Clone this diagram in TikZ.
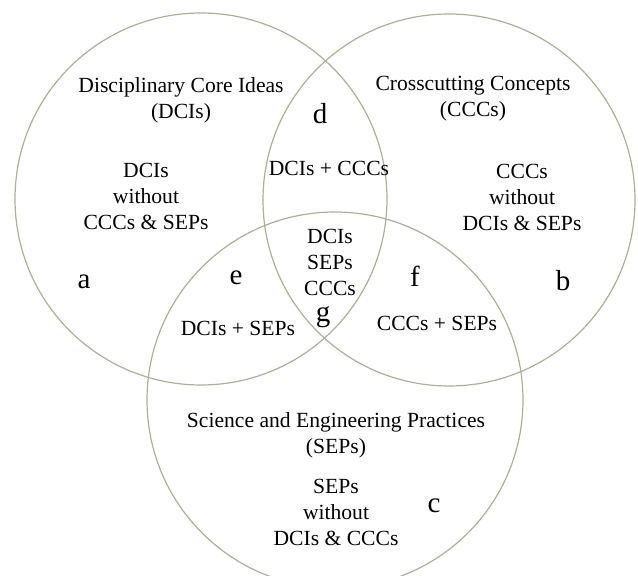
\documentclass[tikz,border=0pt]{standalone}
\usepackage{fontspec}
\setmainfont{Liberation Serif}
\usepackage{tikz}
\usetikzlibrary{calc}
\definecolor{venngray}{RGB}{172,176,150}

\begin{document}
\begin{tikzpicture}[x=0.5pt,y=-0.5pt,
        set/.style={draw=venngray, line width=0.6pt},
        txt/.style={align=center, inner sep=0pt, font=\fontsize{10.8}{13}\selectfont},
        tag/.style={inner sep=0pt, font=\fontsize{14.5}{16}\selectfont}]
        % Page frame
        \useasboundingbox (0,0) rectangle (638,576);
        % Centres of the three sets
        \coordinate (DCI) at (201,199);
        \coordinate (CCC) at (449,200);
        \coordinate (SEP) at (335,400);
        % Draw the circles
        \draw[set] (DCI) circle[radius=186];
        \draw[set] (CCC) circle[radius=186];
        \draw[set] (SEP) circle[radius=188];
        % Names of the sets
        \node[txt] (dciname) at (181,100) {Disciplinary Core Ideas\\(DCIs)};
        \node[txt] (cccname) at (473,99) {Crosscutting Concepts\\(CCCs)};
        \node[txt] (sepname) at (336,435) {Science and Engineering Practices\\(SEPs)};
        % Single regions
        \node[txt] (dcionly) at (146,196) {DCIs\\without\\CCCs \& SEPs};
        \node[txt] (ccconly) at (522,197) {CCCs\\without\\DCIs \& SEPs};
        \node[txt] (seponly) at (336,512) {SEPs\\without\\DCIs \& CCCs};
        % Overlaps
        \node[txt] (dciccc) at (329,168) {DCIs + CCCs};
        \node[txt] (dcisep) at (238,328) {DCIs + SEPs};
        \node[txt] (cccsep) at (437,323) {CCCs + SEPs};
        \node[txt] (allsets) at (330,262) {DCIs\\SEPs\\CCCs};
        % Region letters
        \node[tag] (a) at (84,282) {a};
        \node[tag] (b) at (563,281) {b};
        \node[tag] (c) at (434,506) {c};
        \node[tag] (d) at (320,114) {d};
        \node[tag] (e) at (236,278) {e};
        \node[tag] (f) at (415,276) {f};
        \node[tag] (g) at (323,317) {g};
      \end{tikzpicture}
\end{document}
